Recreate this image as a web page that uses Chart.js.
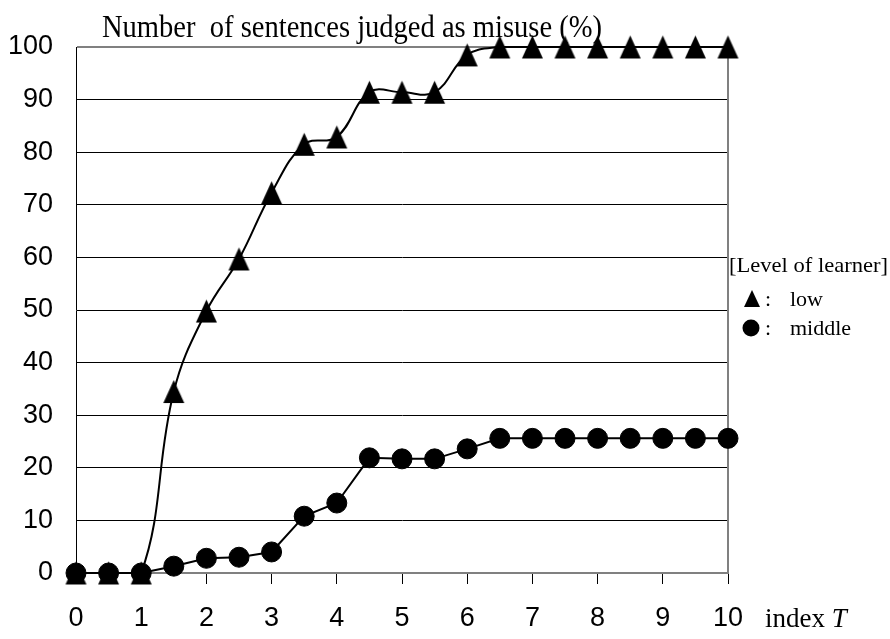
<!DOCTYPE html>
<html>
<head>
<meta charset="utf-8">
<script src="https://cdn.jsdelivr.net/npm/chart.js@4"></script>
<style>
html,body{margin:0;padding:0;background:#fff;}
canvas{display:block;}
</style>
</head>
<body>
<canvas id="c" width="890" height="639"></canvas>
<script>
// ---- data ----
const indexT = [0, 0.5, 1, 1.5, 2, 2.5, 3, 3.5, 4, 4.5, 5, 5.5, 6, 6.5, 7, 7.5, 8, 8.5, 9, 9.5, 10];
const lowLevel = [0, 0, 0, 34.5, 49.8, 59.7, 72.3, 81.5, 82.9, 91.4, 91.4, 91.4, 98.5, 100, 100, 100, 100, 100, 100, 100, 100];
const middleLevel = [0, 0, 0, 1.3, 2.8, 3.0, 4.0, 10.8, 13.3, 21.9, 21.7, 21.7, 23.6, 25.6, 25.6, 25.6, 25.6, 25.6, 25.6, 25.6, 25.6];
const xTickValues = [0, 1, 2, 3, 4, 5, 6, 7, 8, 9, 10];
const yTickValues = [0, 10, 20, 30, 40, 50, 60, 70, 80, 90, 100];
const titleText = "Number  of sentences judged as misuse (%)";
const legendTitle = "[Level of learner]";
const legendLabels = ["low", "middle"];
const xAxisLabel = "index";
const xAxisVar = "T";

const SANS = "'Liberation Sans Narrow', 'Liberation Sans', Arial, sans-serif";
const SERIF = "'Liberation Serif', 'Times New Roman', serif";

// taller (isosceles) triangle marker like the reference
function makeTriangle(w, h) {
  const cv = document.createElement('canvas');
  cv.width = w + 2; cv.height = h + 2;
  const c = cv.getContext('2d');
  c.fillStyle = '#000';
  c.beginPath();
  c.moveTo(cv.width / 2, 1);
  c.lineTo(cv.width - 1, cv.height - 1);
  c.lineTo(1, cv.height - 1);
  c.closePath();
  c.fill();
  return cv;
}
const triangleMarker = makeTriangle(21, 23);

function fitText(ctx, text, x, y, font, targetW, align) {
  ctx.save();
  ctx.font = font;
  const w = ctx.measureText(text).width;
  const sx = targetW / w;
  ctx.translate(x, y);
  ctx.scale(sx, 1);
  ctx.textAlign = align || 'left';
  ctx.fillText(text, 0, 0);
  ctx.restore();
}

const decorations = {
  id: 'decorations',
  afterDraw(chart) {
    const ctx = chart.ctx;
    ctx.save();
    ctx.fillStyle = '#000';
    ctx.textBaseline = 'alphabetic';
    // title
    fitText(ctx, titleText, 102, 37, "31px " + SERIF, 500, 'left');
    // legend
    ctx.textAlign = 'left';
    fitText(ctx, legendTitle, 729, 272, "22px " + SERIF, 159, 'left');
    // triangle marker
    ctx.beginPath();
    ctx.moveTo(752, 290);
    ctx.lineTo(760, 307);
    ctx.lineTo(744, 307);
    ctx.closePath();
    ctx.fill();
    ctx.font = "22px " + SERIF;
    ctx.fillText(":", 765, 306);
    ctx.fillText(legendLabels[0], 790, 306);
    // circle marker
    ctx.beginPath();
    ctx.arc(751, 328, 8.5, 0, Math.PI * 2);
    ctx.fill();
    ctx.fillText(":", 765, 335);
    ctx.fillText(legendLabels[1], 790, 335);
    // x axis label
    ctx.font = "27px " + SERIF;
    ctx.fillText(xAxisLabel, 765, 627);
    const w = ctx.measureText(xAxisLabel + " ").width;
    ctx.font = "italic 27px " + SERIF;
    ctx.fillText(xAxisVar, 765 + w, 627);
    ctx.restore();
  }
};

new Chart(document.getElementById('c'), {
  type: 'line',
  data: {
    datasets: [
      {
        label: legendLabels[0],
        data: indexT.map((x, i) => ({ x: x, y: lowLevel[i] })),
        pointStyle: triangleMarker,
        pointRadius: 12,
        borderColor: '#000',
        backgroundColor: '#000',
        borderWidth: 2,
        tension: 0.4,
        clip: false,
        order: 1
      },
      {
        label: legendLabels[1],
        data: indexT.map((x, i) => ({ x: x, y: middleLevel[i] })),
        pointStyle: 'circle',
        pointRadius: 10,
        pointBorderWidth: 1,
        borderColor: '#000',
        backgroundColor: '#000',
        borderWidth: 2,
        tension: 0,
        clip: false,
        order: 0
      }
    ]
  },
  options: {
    responsive: false,
    animation: false,
    devicePixelRatio: 1,
    layout: { padding: { left: 0, top: 47, right: 162, bottom: 0 } },
    plugins: { legend: { display: false }, tooltip: { enabled: false }, title: { display: false } },
    scales: {
      x: {
        type: 'linear',
        min: 0, max: 10,
        afterBuildTicks(s) { s.ticks = xTickValues.map(v => ({ value: v })); },
        ticks: { color: '#000', font: { family: SANS, size: 27 }, padding: 18, maxRotation: 0, autoSkip: false },
        grid: { drawOnChartArea: false, drawTicks: true, tickLength: 11, tickColor: '#000', tickWidth: 1 },
        border: { color: '#808080', width: 2 },
        afterFit(s) { s.height = 66; }
      },
      y: {
        min: 0, max: 100,
        afterBuildTicks(s) { s.ticks = yTickValues.map(v => ({ value: v })); },
        ticks: { color: '#000', font: { family: SANS, size: 27 }, padding: 23 },
        grid: {
          drawTicks: false,
          color: c => (c.tick && c.tick.value === 100) ? '#808080' : '#000',
          lineWidth: c => (c.tick && c.tick.value === 100) ? 2 : 1
        },
        border: { color: '#000', width: 1 },
        afterFit(s) { s.width = 76; }
      },
      y2: {
        position: 'right',
        min: 0, max: 100,
        ticks: { display: false },
        grid: { drawOnChartArea: false, drawTicks: false },
        border: { color: '#808080', width: 2 },
        afterFit(s) { s.width = 0; }
      }
    }
  },
  plugins: [decorations]
});
</script>
</body>
</html>
